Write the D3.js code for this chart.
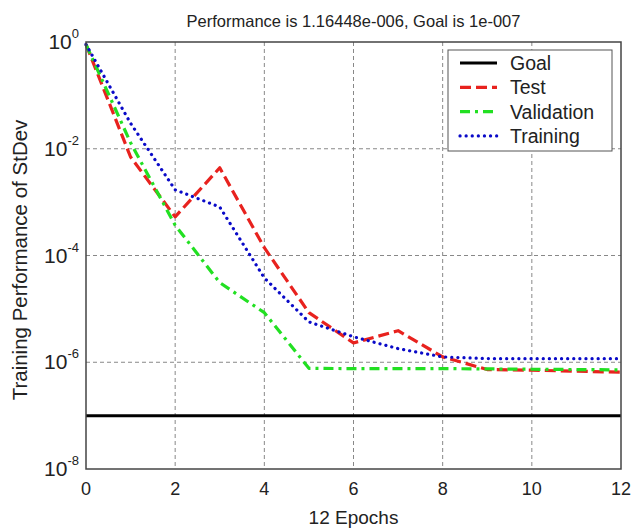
<!DOCTYPE html>
<html>
<head>
<meta charset="utf-8">
<script src="https://cdn.jsdelivr.net/npm/d3@7"></script>
<style>
  body { margin: 0; background: #fff; }
  text { font-family: "Liberation Sans", Arial, sans-serif; fill: #222; }
</style>
</head>
<body>
<div id="chart" style="width:632px;height:528px"></div>
<script>
const epochs = [0, 1, 2, 3, 4, 5, 6, 7, 8, 9, 10, 11, 12];
const test = [0.9, 7e-3, 5.3e-4, 4.4e-3, 1.4e-4, 8.5e-6, 2.3e-6, 3.9e-6, 1.26e-6, 7.3e-7, 7.1e-7, 6.8e-7, 6.5e-7];
const validation = [0.9, 1.3e-2, 3.7e-4, 3.1e-5, 8.5e-6, 7.7e-7, 7.6e-7, 7.6e-7, 7.6e-7, 7.5e-7, 7.4e-7, 7.3e-7, 7.2e-7];
const training = [0.9, 3e-2, 1.7e-3, 8.1e-4, 3.8e-5, 5.7e-6, 3e-6, 1.8e-6, 1.26e-6, 1.17e-6, 1.165e-6, 1.165e-6, 1.16448e-6];
const goal = 1e-7;
const xTicks = [0, 2, 4, 6, 8, 10, 12];
const yExponents = [0, -2, -4, -6, -8];
const titleText = 'Performance is 1.16448e-006, Goal is 1e-007';

function drawChart(target) {
  const width = 632, height = 528;
  const margin = { top: 42, right: 11, bottom: 59, left: 86 };
  const innerW = width - margin.left - margin.right;
  const innerH = height - margin.top - margin.bottom;

  const svg = d3.select(target).append('svg')
    .attr('width', width)
    .attr('height', height);

  const x = d3.scaleLinear().domain([0, 12]).range([margin.left, margin.left + innerW]);
  const y = d3.scaleLog().domain([1e-8, 1]).range([margin.top + innerH, margin.top]);

  // grid
  const grid = svg.append('g')
    .attr('stroke', '#888')
    .attr('stroke-width', 1)
    .attr('stroke-dasharray', '4,3');
  xTicks.slice(1, -1).forEach(t => {
    grid.append('line')
      .attr('x1', x(t)).attr('x2', x(t))
      .attr('y1', margin.top).attr('y2', margin.top + innerH);
  });
  yExponents.slice(1, -1).forEach(e => {
    grid.append('line')
      .attr('x1', margin.left).attr('x2', margin.left + innerW)
      .attr('y1', y(Math.pow(10, e))).attr('y2', y(Math.pow(10, e)));
  });

  // goal
  svg.append('line')
    .attr('x1', x(0)).attr('x2', x(12))
    .attr('y1', y(goal)).attr('y2', y(goal))
    .attr('stroke', '#000')
    .attr('stroke-width', 3);

  const line = d3.line()
    .x((d, i) => x(epochs[i]))
    .y(d => y(d));

  const series = [
    { name: 'Test', values: test, color: '#e8221e', dash: '11,5', cap: 'butt' },
    { name: 'Validation', values: validation, color: '#22e022', dash: '10,5,3,5', cap: 'butt' },
    { name: 'Training', values: training, color: '#0a0ac8', dash: '0.1,6', cap: 'round' }
  ];

  series.forEach(s => {
    svg.append('path')
      .datum(s.values)
      .attr('d', line)
      .attr('fill', 'none')
      .attr('stroke', s.color)
      .attr('stroke-width', 3.2)
      .attr('stroke-dasharray', s.dash)
      .attr('stroke-linecap', s.cap)
      .attr('stroke-linejoin', 'round');
  });

  // axes box
  svg.append('rect')
    .attr('x', margin.left).attr('y', margin.top)
    .attr('width', innerW).attr('height', innerH)
    .attr('fill', 'none')
    .attr('stroke', '#444')
    .attr('stroke-width', 1.5);

  // x tick labels
  svg.append('g').selectAll('text')
    .data(xTicks)
    .join('text')
      .attr('x', d => x(d))
      .attr('y', margin.top + innerH + 26)
      .attr('text-anchor', 'middle')
      .attr('font-size', 18)
      .text(d => d);

  // y tick labels
  const yl = svg.append('g').selectAll('text')
    .data(yExponents)
    .join('text')
      .attr('x', 79)
      .attr('y', d => y(Math.pow(10, d)) + 7)
      .attr('text-anchor', 'end')
      .attr('font-size', 21);
  yl.append('tspan').text('10');
  yl.append('tspan')
    .attr('dy', -11)
    .attr('font-size', 13)
    .text(d => d);

  // axis labels
  svg.append('text')
    .attr('x', margin.left + innerW / 2)
    .attr('y', 524)
    .attr('text-anchor', 'middle')
    .attr('font-size', 19)
    .text('12 Epochs');

  svg.append('text')
    .attr('transform', 'translate(27,260) rotate(-90)')
    .attr('text-anchor', 'middle')
    .attr('font-size', 20.5)
    .text('Training Performance of StDev');

  svg.append('text')
    .attr('x', margin.left + innerW / 2)
    .attr('y', 27)
    .attr('text-anchor', 'middle')
    .attr('font-size', 16.5)
    .text(titleText);

  // legend
  const legend = svg.append('g').attr('transform', 'translate(448,50)');
  legend.append('rect')
    .attr('width', 164).attr('height', 101)
    .attr('fill', '#fff')
    .attr('stroke', '#555')
    .attr('stroke-width', 1);
  const items = [{ name: 'Goal', color: '#000', dash: null, cap: 'butt', w: 3 }]
    .concat(series.map(s => ({ name: s.name, color: s.color, dash: s.dash, cap: s.cap, w: 3.2 })));
  items.forEach((it, i) => {
    const cy = 13 + i * 24.3;
    legend.append('line')
      .attr('x1', 12).attr('x2', 49)
      .attr('y1', cy).attr('y2', cy)
      .attr('stroke', it.color)
      .attr('stroke-width', it.w)
      .attr('stroke-dasharray', it.dash)
      .attr('stroke-linecap', it.cap);
    legend.append('text')
      .attr('x', 62)
      .attr('y', cy + 7)
      .attr('font-size', 19.5)
      .text(it.name);
  });
}

drawChart('#chart');
</script>
</body>
</html>
